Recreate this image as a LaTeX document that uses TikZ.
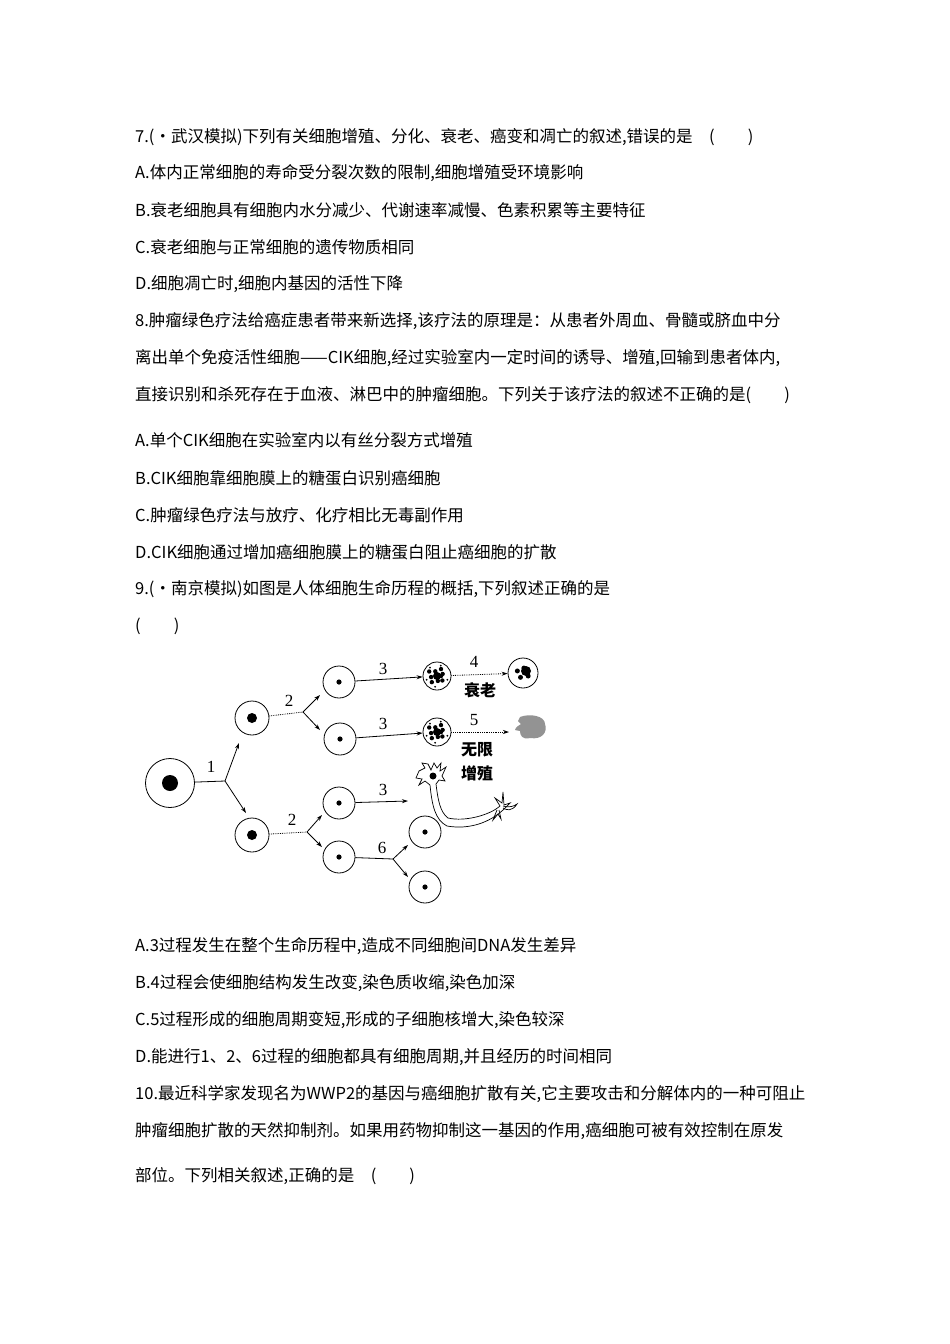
\documentclass[tikz,border=0pt]{standalone}
\usepackage{fontspec}
\setmainfont{Noto Sans CJK SC}
\newfontfamily\numfont{Liberation Serif}
\usetikzlibrary{arrows.meta}
\begin{document}
\begin{tikzpicture}[x=1pt,y=-1pt,
  txt/.style={anchor=west,inner sep=0pt,font=\fontsize{16.5}{18}\selectfont},
  lbl/.style={inner sep=0pt,font=\fontsize{17}{18}\selectfont\numfont},
  arr/.style={-{Stealth[length=6pt,width=4pt]},line width=0.8pt},
  dot/.style={densely dotted,line width=0.8pt},
  cell/.style={circle,draw,line width=0.8pt,inner sep=0pt},
  old/.style={circle,draw,line width=0.8pt,inner sep=0pt,minimum size=28pt}]
\useasboundingbox (0,0) rectangle (950,1344);
\fill[white] (0,0) rectangle (950,1344);
\node[txt] (t1) at (135,137) {7.(・武汉模拟)下列有关细胞增殖、分化、衰老、癌变和凋亡的叙述,错误的是\quad (\qquad)};
\node[txt] (t2) at (135,173) {A.体内正常细胞的寿命受分裂次数的限制,细胞增殖受环境影响};
\node[txt] (t3) at (135,210) {B.衰老细胞具有细胞内水分减少、代谢速率减慢、色素积累等主要特征};
\node[txt] (t4) at (135,247) {C.衰老细胞与正常细胞的遗传物质相同};
\node[txt] (t5) at (135,284) {D.细胞凋亡时,细胞内基因的活性下降};
\node[txt] (t6) at (135,321) {8.肿瘤绿色疗法给癌症患者带来新选择,该疗法的原理是：从患者外周血、骨髓或脐血中分};
\node[txt] (t7) at (135,358) {离出单个免疫活性细胞——CIK细胞,经过实验室内一定时间的诱导、增殖,回输到患者体内,};
\node[txt] (t8) at (135,395) {直接识别和杀死存在于血液、淋巴中的肿瘤细胞。下列关于该疗法的叙述不正确的是(\qquad)};
\node[txt] (t9) at (135,440) {A.单个CIK细胞在实验室内以有丝分裂方式增殖};
\node[txt] (t10) at (135,478) {B.CIK细胞靠细胞膜上的糖蛋白识别癌细胞};
\node[txt] (t11) at (135,515) {C.肿瘤绿色疗法与放疗、化疗相比无毒副作用};
\node[txt] (t12) at (135,552) {D.CIK细胞通过增加癌细胞膜上的糖蛋白阻止癌细胞的扩散};
\node[txt] (t13) at (135,589) {9.(・南京模拟)如图是人体细胞生命历程的概括,下列叙述正确的是};
\node[txt] (t14) at (135,626) {(\qquad)};
\node[txt] (t15) at (135,946) {A.3过程发生在整个生命历程中,造成不同细胞间DNA发生差异};
\node[txt] (t16) at (135,983) {B.4过程会使细胞结构发生改变,染色质收缩,染色加深};
\node[txt] (t17) at (135,1020) {C.5过程形成的细胞周期变短,形成的子细胞核增大,染色较深};
\node[txt] (t18) at (135,1057) {D.能进行1、2、6过程的细胞都具有细胞周期,并且经历的时间相同};
\node[txt] (t19) at (135,1094) {10.最近科学家发现名为WWP2的基因与癌细胞扩散有关,它主要攻击和分解体内的一种可阻止};
\node[txt] (t20) at (135,1131) {肿瘤细胞扩散的天然抑制剂。如果用药物抑制这一基因的作用,癌细胞可被有效控制在原发};
\node[txt] (t21) at (135,1176) {部位。下列相关叙述,正确的是\quad (\qquad)};
% cells
\node[cell,minimum size=49pt] (c0) at (170,783) {};
\fill (c0) circle (8);
\foreach \n/\x/\y in {c1/252/718,c2/252/835}{
  \node[cell,minimum size=34pt] (\n) at (\x,\y) {}; \fill (\n) circle (5);}
\foreach \n/\x/\y in {c3/339/682,c4/340/739,c5/339/803,c6/339/857,c7/425/832,c8/425/887}{
  \node[cell,minimum size=32pt] (\n) at (\x,\y) {}; \fill (\n) circle (2.6);}
\node[old] (o1) at (437,676) {};
\node[old,minimum size=30pt] (o2) at (523,673) {};
\node[old] (o3) at (437,732) {};
\foreach \c in {o1,o3}{
  \foreach \a/\r in {0/4,40/7,80/5,130/8,170/6,210/9,250/5,300/8,340/6}{
    \fill ([shift={(\a:\r)}]\c.center) circle (2.2);}
  \fill (\c.center) circle (4);
  \foreach \a in {20,100,160,230,290}{\fill ([shift={(\a:11)}]\c.center) circle (1);}}
\fill ([shift={(3,-2)}]o2.center) circle (5);
\foreach \a/\r in {30/6,120/5,200/6,280/5}{\fill ([shift={(\a:\r)}]o2.center) circle (2.5);}
\fill[gray!85] (520,717) .. controls (530,713) and (545,716) .. (545,724) .. controls (548,732) and (542,740) .. (530,738) .. controls (522,740) and (520,735) .. (520,731) -- (515,730) .. controls (516,726) and (519,726) .. (521,724) -- (518,721) -- cycle;
% junctions
\coordinate (j1) at (225,781);
\draw[line width=0.8pt] (c0) -- (j1);
\draw[arr] (j1) -- (239,743);
\draw[arr] (j1) -- (246,813);
\node[lbl] (l1) at (211,767) {1};
\coordinate (j2) at (303,712);
\draw[dot] (c1) -- (j2);
\draw[arr] (j2) -- (320,695);
\draw[arr] (j2) -- (320,730);
\node[lbl] (l2) at (289,701) {2};
\coordinate (j3) at (307,832);
\draw[dot] (c2) -- (j3);
\draw[arr] (j3) -- (322,815);
\draw[arr] (j3) -- (322,847);
\node[lbl] (l3) at (292,820) {2};
\draw[arr] (c3) -- (o1); \node[lbl] at (383,669) {3};
\draw[arr] (c4) -- (o3); \node[lbl] at (383,724) {3};
\coordinate (n3) at (408,801);
\draw[arr] (c5) -- (n3); \node[lbl] at (383,790) {3};
\draw[dot,-{Stealth[length=6pt,width=4pt]}] (o1) -- (o2);
\node[lbl] at (474,662) {4};
\node[inner sep=0pt,font=\fontsize{16}{18}\selectfont\bfseries] at (480,690) {衰老};
\coordinate (b5) at (509,732);
\draw[dot,-{Stealth[length=6pt,width=4pt]}] (o3) -- (b5);
\node[lbl] at (474,720) {5};
\node[inner sep=0pt,font=\fontsize{16}{18}\selectfont\bfseries] at (477,750) {无限};
\node[inner sep=0pt,font=\fontsize{16}{18}\selectfont\bfseries] at (477,773) {增殖};
\coordinate (j6) at (393,859);
\draw[line width=0.8pt] (c6) -- (j6);
\draw[arr] (j6) -- (408,845);
\draw[arr] (j6) -- (408,877);
\node[lbl] at (382,848) {6};
% neuron
\draw[line width=0.7pt] (419,771) -- (425,768) -- (422,763) -- (428,764) -- (431,770) -- (434,763) -- (437,768) -- (441,763) -- (440,771) -- (446,767) -- (442,776) -- (445,781) -- (439,780) -- (436,784)
  .. controls (438,800) and (440,812) .. (448,818) .. controls (465,822) and (490,815) .. (500,806) -- (495,798) -- (502,803) -- (503,792) -- (504,805) -- (510,803) -- (503,810)
  .. controls (490,822) and (470,830) .. (447,826) .. controls (435,820) and (432,805) .. (430,785) -- (425,781) -- (419,785) -- (422,779) -- (416,778) -- cycle;
\fill (433,776) circle (3.5);
\draw[line width=0.7pt] (497,810) -- (493,820) -- (498,814) -- (501,819) -- (499,810);
\draw[line width=0.7pt] (503,806) .. controls (510,808) and (514,806) .. (517,804) .. controls (512,812) and (506,810) .. (503,808);
\end{tikzpicture}
\end{document}
